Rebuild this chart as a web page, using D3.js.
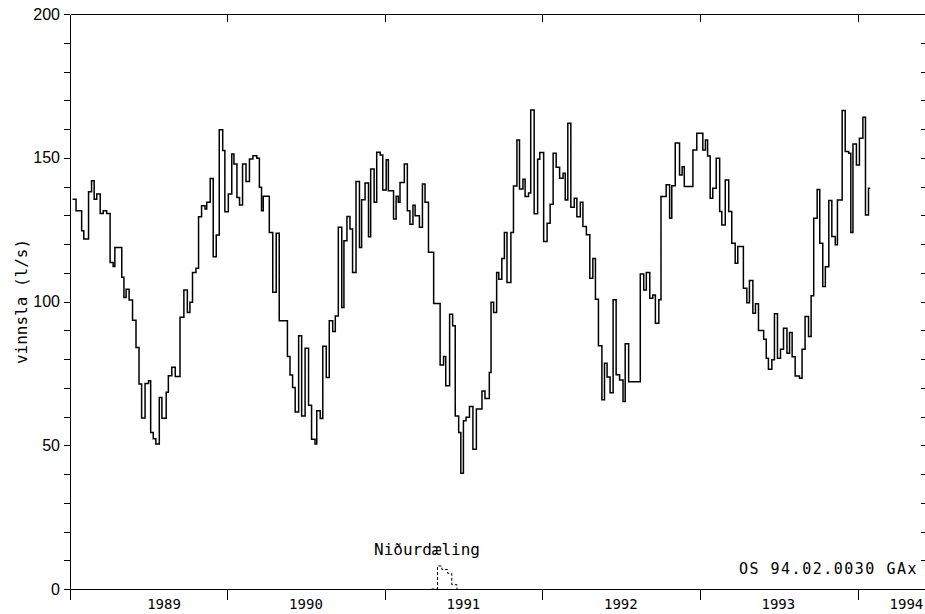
<!DOCTYPE html>
<html lang="is">
<head>
<meta charset="utf-8">
<title>Vinnsla 1989-1994</title>
<script src="https://cdn.jsdelivr.net/npm/d3@7"></script>
<style>
  body { margin: 0; background: #fff; }
  svg { display: block; font-family: "DejaVu Sans Mono", monospace; }
  .axis path, .axis line { stroke: #000; stroke-width: 1; shape-rendering: crispEdges; }
  .axis text { fill: #000; }
  .flow { fill: none; stroke: #000; stroke-width: 1.5; }
  .inj { fill: none; stroke: #000; stroke-width: 1; stroke-dasharray: 3,2; }
</style>
</head>
<body>
<script>
var w = 925, h = 614;
var plotLeft = 70, plotRight = 925, plotTop = 14, plotBottom = 589;

var startDate = new Date(1989, 0, 1);
var endDate = new Date(1994, 5, 6);

// day (after 1 Jan 1989) on which each reading starts, and the reading in l/s
var days = [
  6, 14, 27, 32, 43, 50, 56, 62, 70, 77, 85, 93, 100, 104, 120, 125, 130, 137, 145, 153,
  160, 166, 174, 182, 187, 193, 199, 207, 213, 223, 228, 236, 244, 255, 264, 272, 278, 284, 292, 298,
  305, 313, 317, 325, 332, 339, 346, 354, 359, 367, 375, 380, 387, 393, 400, 408, 416, 424, 433, 439,
  444, 448, 462, 470, 478, 485, 504, 510, 516, 522, 530, 537, 545, 553, 560, 568, 572, 580, 586, 594,
  601, 609, 615, 622, 630, 635, 642, 649, 655, 663, 671, 676, 684, 692, 697, 705, 711, 719, 725, 733,
  738, 750, 756, 761, 765, 775, 782, 788, 795, 800, 810, 817, 823, 831, 843, 858, 866, 871, 880, 887,
  893, 901, 906, 912, 918, 926, 934, 942, 955, 962, 972, 976, 982, 989, 994, 1001, 1007, 1013, 1022, 1028,
  1036, 1042, 1050, 1055, 1063, 1068, 1076, 1084, 1089, 1098, 1106, 1113, 1120, 1127, 1135, 1143, 1148, 1154, 1161, 1169,
  1175, 1183, 1189, 1197, 1205, 1212, 1218, 1225, 1233, 1239, 1245, 1252, 1259, 1266, 1274, 1282, 1287, 1295, 1322, 1330,
  1336, 1344, 1351, 1357, 1365, 1370, 1382, 1390, 1395, 1403, 1413, 1419, 1424, 1444, 1453, 1467, 1473, 1478, 1484, 1490,
  1498, 1506, 1511, 1519, 1527, 1534, 1542, 1548, 1561, 1569, 1575, 1583, 1589, 1596, 1608, 1614, 1619, 1627, 1633, 1640,
  1647, 1654, 1662, 1668, 1674, 1681, 1691, 1697, 1704, 1712, 1718, 1724, 1732, 1738, 1745, 1751, 1759, 1766, 1774, 1779,
  1790, 1797, 1805, 1810, 1815, 1823, 1830, 1838, 1844, 1851
];
var vinnsla = [
  135.6, 131.6, 124.6, 121.7, 138.2, 142.0, 135.6, 137.4, 130.6, 131.6, 130.6, 113.6, 112.2, 118.8, 108.4, 101.4, 104.3, 100.5, 93.5, 84.0,
  71.3, 59.5, 71.5, 72.4, 54.4, 52.3, 50.4, 66.6, 59.4, 68.4, 74.2, 77.1, 73.9, 94.5, 104.0, 96.2, 99.7, 110.1, 111.6, 129.5,
  133.3, 132.2, 134.5, 142.8, 115.6, 123.1, 159.7, 152.5, 131.2, 137.4, 151.3, 147.8, 136.2, 133.6, 147.8, 141.7, 149.6, 150.7, 149.8, 139.7,
  131.6, 136.6, 124.0, 103.2, 123.7, 93.3, 80.9, 74.4, 70.1, 61.6, 88.1, 60.2, 83.7, 63.9, 52.1, 50.4, 62.0, 59.3, 84.4, 73.6,
  93.3, 89.6, 95.0, 125.8, 97.9, 121.1, 129.6, 125.2, 110.1, 141.7, 118.8, 135.4, 141.2, 122.5, 146.1, 134.5, 151.9, 151.0, 138.8, 149.3,
  138.5, 128.7, 136.6, 134.5, 141.4, 147.8, 131.6, 126.9, 133.5, 129.8, 125.8, 140.9, 134.5, 117.1, 99.3, 77.9, 80.9, 70.7, 95.6, 91.6,
  60.2, 54.4, 40.3, 58.5, 59.7, 63.5, 48.6, 62.6, 68.9, 66.3, 75.3, 99.7, 96.2, 110.1, 107.7, 115.0, 124.0, 106.6, 124.0, 140.2,
  156.2, 139.1, 142.5, 136.5, 137.7, 166.6, 130.5, 149.5, 151.8, 120.9, 127.2, 133.8, 151.6, 146.7, 142.9, 144.6, 135.3, 162.0, 132.8, 135.9,
  129.5, 134.5, 126.1, 123.2, 108.1, 115.0, 100.8, 84.6, 65.8, 78.5, 73.7, 68.3, 100.6, 74.5, 72.7, 65.2, 85.3, 72.1, 109.6, 104.0,
  110.1, 101.1, 102.3, 92.4, 100.6, 136.5, 140.6, 129.0, 140.3, 155.1, 144.0, 146.9, 140.0, 152.7, 158.5, 152.7, 156.2, 150.6, 135.9, 139.4,
  149.8, 131.3, 126.6, 142.3, 131.3, 120.3, 113.3, 119.1, 104.6, 99.6, 107.3, 95.9, 99.2, 89.9, 86.9, 80.3, 76.4, 79.7, 95.7, 80.3,
  83.4, 90.7, 82.0, 89.2, 80.8, 74.1, 73.3, 83.4, 94.8, 87.8, 102.0, 129.0, 139.0, 120.3, 105.2, 112.1, 135.1, 122.6, 119.7, 135.3,
  166.4, 152.2, 151.6, 124.0, 154.8, 147.5, 156.8, 164.1, 130.1, 139.4
];
var lastDay = 1855;

// Niðurdæling (injection), dashed
var injDays = [838, 852, 862, 875, 885, 897];
var injValues = [0, 8.0, 6.8, 5.5, 1.5, 0];

var yearTicks = [1989, 1990, 1991, 1992, 1993, 1994];
var yearLabels = ["1989", "1990", "1991", "1992", "1993", "1994"];
var yearLabelDays = [218, 547, 912, 1277, 1642, 1939];

var yTicks = d3.range(0, 201, 10);
var yLabelTicks = [0, 50, 100, 150, 200];

var series = days.map(function(d, i) {
  return { date: d3.timeDay.offset(startDate, d), v: vinnsla[i] };
});
series.push({ date: d3.timeDay.offset(startDate, lastDay), v: vinnsla[vinnsla.length - 1] });

var inj = injDays.map(function(d, i) {
  return { date: d3.timeDay.offset(startDate, d), v: injValues[i] };
});

var x = d3.scaleTime().domain([startDate, endDate]).range([plotLeft, plotRight]);
var y = d3.scaleLinear().domain([0, 200]).range([plotBottom, plotTop]);

var svg = d3.select("body").append("svg")
  .attr("width", w)
  .attr("height", h);

var yearStarts = yearTicks.map(function(yr) { return new Date(yr, 0, 1); });

// bottom axis
svg.append("g")
  .attr("class", "axis")
  .attr("transform", "translate(0," + plotBottom + ")")
  .call(d3.axisBottom(x).tickValues(yearStarts).tickSize(11).tickSizeOuter(0).tickFormat(""));

// top axis, ticks pointing down into the plot
svg.append("g")
  .attr("class", "axis")
  .attr("transform", "translate(0," + plotTop + ")")
  .call(d3.axisBottom(x).tickValues(yearStarts.slice(1)).tickSize(8).tickSizeOuter(0).tickFormat(""));

// left axis
svg.append("g")
  .attr("class", "axis")
  .attr("transform", "translate(" + plotLeft + ",0)")
  .call(d3.axisLeft(y).tickValues(yTicks).tickSize(6).tickSizeOuter(0).tickPadding(4)
    .tickFormat(function(d) { return yLabelTicks.indexOf(d) >= 0 ? d : ""; }))
  .selectAll("text")
  .style("font-size", "16px");

// right side ticks
svg.append("g")
  .attr("class", "axis")
  .attr("transform", "translate(" + plotRight + ",0)")
  .call(d3.axisLeft(y).tickValues(yTicks.slice(1, -1)).tickSize(4).tickFormat(""))
  .select(".domain").remove();

// year labels
svg.append("g")
  .selectAll("text")
  .data(yearLabels)
  .enter()
  .append("text")
  .attr("x", function(d, i) { return x(d3.timeDay.offset(startDate, yearLabelDays[i])); })
  .attr("y", plotBottom + 20)
  .attr("text-anchor", "middle")
  .style("font-size", "14px")
  .text(function(d) { return d; });

svg.append("text")
  .attr("transform", "translate(21," + (plotTop + plotBottom) / 2 + ") rotate(-90)")
  .attr("text-anchor", "middle")
  .attr("dominant-baseline", "central")
  .style("font-size", "16px")
  .text("vinnsla (l/s)");

var line = d3.line()
  .x(function(d) { return x(d.date); })
  .y(function(d) { return y(d.v); })
  .curve(d3.curveStepAfter);

svg.append("path").datum(series).attr("class", "flow").attr("d", line);
svg.append("path").datum(inj).attr("class", "inj").attr("d", line);

svg.append("text")
  .attr("x", 427)
  .attr("y", 555)
  .attr("text-anchor", "middle")
  .style("font-size", "16px")
  .text("Niðurdæling");

svg.append("text")
  .attr("x", 918)
  .attr("y", 574)
  .attr("text-anchor", "end")
  .style("font-size", "15px")
  .style("letter-spacing", "1.5px")
  .text("OS 94.02.0030 GAx");
</script>
</body>
</html>
